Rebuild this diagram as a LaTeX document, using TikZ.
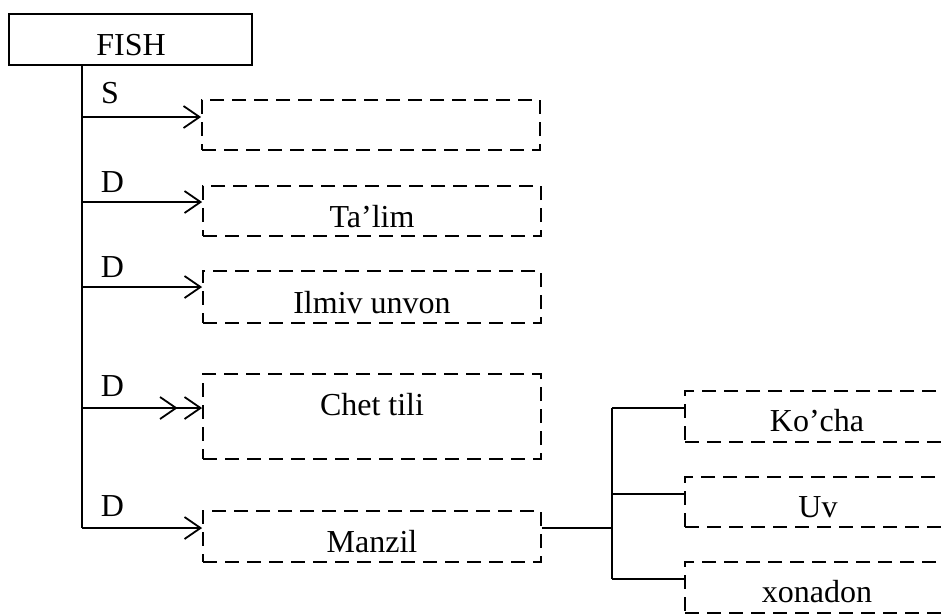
\documentclass[tikz,border=0pt]{standalone}
\usepackage{fontspec}
\setmainfont{Liberation Serif}
\usetikzlibrary{arrows.meta}
\begin{document}
\begin{tikzpicture}[x=1pt,y=-1pt,
  lbl/.style={font=\fontsize{32}{38}\selectfont, inner sep=0pt, anchor=base},
  dbox/.style={draw, line width=1.8pt, dash pattern=on 14pt off 8pt, inner sep=0pt},
  wire/.style={line width=1.8pt},
  barb/.style={wire, -{Straight Barb[length=16pt,width=22pt,line width=1.8pt]}},
  dbarb/.style={wire, -{Straight Barb[length=16pt,width=22pt,line width=1.8pt,sep=6pt]Straight Barb[length=16pt,width=22pt,line width=1.8pt]}}
]
\useasboundingbox (0,0) rectangle (941,614);
\clip (0,0) rectangle (941,614);

% root box
\node[draw, line width=1.8pt, minimum width=243pt, minimum height=51pt, inner sep=0pt] (fish) at (130.5,39.5) {};
\node[lbl] (fishtxt) at (131,55) {FISH};

% left column of dashed boxes
\node[dbox, minimum width=338pt, minimum height=50pt] (b1) at (371,125) {};
\node[dbox, minimum width=338pt, minimum height=50pt] (b2) at (372,211) {};
\node[dbox, minimum width=338pt, minimum height=52pt] (b3) at (372,297) {};
\node[dbox, minimum width=338pt, minimum height=85pt] (b4) at (372,416.5) {};
\node[dbox, minimum width=338pt, minimum height=51pt] (b5) at (372,536.5) {};

\node[lbl] (t2) at (372,227) {Ta’lim};
\node[lbl] (t3) at (372,313) {Ilmiv unvon};
\node[lbl] (t4) at (372,415) {Chet tili};
\node[lbl] (t5) at (372,552) {Manzil};

% right column of dashed boxes
\node[dbox, minimum width=265pt, minimum height=51pt] (r1) at (817.5,416.5) {};
\node[dbox, minimum width=265pt, minimum height=50pt] (r2) at (817.5,502) {};
\node[dbox, minimum width=265pt, minimum height=51pt] (r3) at (817.5,587.5) {};

\node[lbl] (rt1) at (817,431) {Ko’cha};
\node[lbl] (rt2) at (818,517) {Uv};
\node[lbl] (rt3) at (817,602) {xonadon};

% trunk and its taps
\coordinate (top) at (82,65);
\coordinate (a1) at (82,117);
\coordinate (a2) at (82,202);
\coordinate (a3) at (82,287);
\coordinate (a4) at (82,408);
\coordinate (a5) at (82,528);
\draw[wire] (top) -- (a5);

\draw[barb]  (a1) -- (a1 -| b1.west);
\draw[barb]  (a2) -- (a2 -| b2.west);
\draw[barb]  (a3) -- (a3 -| b3.west);
\draw[dbarb] (a4) -- (a4 -| b4.west);
\draw[barb]  (a5) -- (a5 -| b5.west);

% link labels
\node[lbl] (s1) at (110,103) {S};
\node[lbl] (d2) at (112.5,192) {D};
\node[lbl] (d3) at (112.5,277) {D};
\node[lbl] (d4) at (112.5,396) {D};
\node[lbl] (d5) at (112.5,516) {D};

% address branch
\coordinate (m0) at (541,528);
\coordinate (fork) at (612,528);
\coordinate (f1) at (612,408);
\coordinate (f2) at (612,494);
\coordinate (f3) at (612,579);
\draw[wire] (m0 -| b5.east) -- (fork);
\draw[wire] (f1) -- (f3);
\draw[wire] (f1) -- (f1 -| r1.west);
\draw[wire] (f2) -- (f2 -| r2.west);
\draw[wire] (f3) -- (f3 -| r3.west);
\end{tikzpicture}
\end{document}
